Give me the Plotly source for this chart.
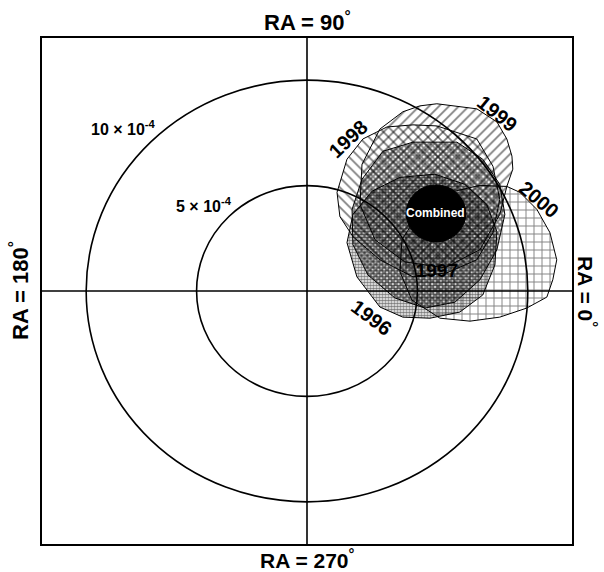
import plotly.graph_objects as go

# amplitude rings (units of 1e-4)
ring_radii = [5, 10]
ring_labels = ["5 × 10<sup>-4</sup>", "10 × 10<sup>-4</sup>"]
ring_label_x = [-4.66, -8.33]
ring_label_y = [4.10, 7.73]

# direction labels
ra_labels = ["RA = 90<sup>°</sup>", "RA = 270<sup>°</sup>", "RA = 180<sup>°</sup>", "RA = 0<sup>°</sup>"]

# yearly confidence contours (x = A cos RA, y = A sin RA, units of 1e-4)
years = ["1996", "1997", "1998", "1999", "2000"]
x1996 = [2.08, 1.81, 2.26, 3.30, 4.34, 5.57, 6.92, 7.96, 8.51, 8.60, 8.14, 7.15, 5.79, 4.21, 2.94]
y1996 = [3.63, 2.29, 0.67, -0.76, -1.24, -1.29, -1.00, -0.19, 1.24, 2.82, 4.11, 5.06, 5.54, 5.39, 4.73]
x1997 = [4.80, 6.79, 7.96, 8.73, 8.96, 8.60, 7.83, 6.70, 5.34, 3.98, 2.76, 2.08, 2.04, 2.49, 3.44]
y1997 = [7.06, 7.06, 6.25, 5.06, 3.63, 1.96, 0.53, -0.53, -0.81, -0.33, 0.76, 2.20, 3.87, 5.30, 6.63]
x1998 = [1.36, 1.81, 2.53, 3.62, 4.80, 5.88, 7.69, 8.42, 8.73, 8.42, 7.69, 6.33, 4.80, 3.30, 2.08, 1.49]
y1998 = [4.68, 6.25, 7.21, 7.78, 7.88, 7.83, 7.21, 5.92, 4.34, 2.77, 1.48, 0.86, 0.67, 1.48, 2.58, 3.53]
x1999 = [5.88, 7.69, 8.60, 9.05, 9.28, 9.32, 9.05, 8.73, 7.83, 6.24, 4.43, 3.08, 2.40, 2.49, 3.30, 4.34, 5.11]
y1999 = [8.88, 8.64, 8.02, 7.21, 6.40, 5.78, 4.96, 3.63, 1.96, 1.10, 1.38, 2.43, 4.10, 6.01, 7.68, 8.50, 8.78]
x2000 = [9.05, 9.64, 10.41, 11.00, 11.31, 11.13, 10.86, 9.95, 8.73, 7.38, 6.02, 4.75, 4.21, 4.30, 5.11, 6.47, 7.83]
y2000 = [4.96, 4.68, 3.87, 2.77, 1.48, 0.53, -0.29, -0.81, -1.24, -1.43, -1.29, -0.43, 0.91, 2.43, 3.77, 4.68, 5.01]

year_label_x = [2.94, 5.88, 1.86, 8.64, 10.54]
year_label_y = [-1.29, 0.91, 7.21, 8.40, 4.34]
year_label_angle = [37, 0, -43, 39, 40]

combined_x, combined_y, combined_r = 5.84, 3.68, 1.35

contours = {
    "1996": (x1996, y1996),
    "1997": (x1997, y1997),
    "1998": (x1998, y1998),
    "1999": (x1999, y1999),
    "2000": (x2000, y2000),
}
patterns = {
    "1996": dict(shape=".", size=3, solidity=0.65),
    "2000": dict(shape="+", size=8, solidity=0.22),
    "1998": dict(shape="\\", size=7, solidity=0.25),
    "1999": dict(shape="/", size=7, solidity=0.25),
    "1997": dict(shape="x", size=4, solidity=0.7),
}
draw_order = ["1996", "2000", "1998", "1999", "1997"]

fig = go.Figure()

# 1997 label sits underneath the overlapping patterns
fig.add_trace(go.Scatter(
    x=[year_label_x[1]], y=[year_label_y[1]], mode="text", text=["1997"],
    textfont=dict(family="Liberation Sans, Arial", size=19, color="black", weight="bold"),
    hoverinfo="skip", showlegend=False))

for yr in draw_order:
    xs, ys = contours[yr]
    p = patterns[yr]
    fig.add_trace(go.Scatter(
        x=xs + [xs[0]], y=ys + [ys[0]], mode="lines", fill="toself",
        fillcolor="rgba(0,0,0,0)",
        fillpattern=dict(shape=p["shape"], size=p["size"], solidity=p["solidity"],
                         fgcolor="black", bgcolor="rgba(0,0,0,0)", fillmode="overlay"),
        line=dict(color="black", width=1), hoverinfo="skip", showlegend=False, name=yr))

shapes = []
for r in ring_radii:
    shapes.append(dict(type="circle", xref="x", yref="y", x0=-r, x1=r, y0=-r, y1=r,
                       line=dict(color="black", width=1.6), layer="above"))
shapes.append(dict(type="line", xref="x", yref="y", x0=-12, x1=12, y0=0, y1=0,
                   line=dict(color="black", width=1.6), layer="above"))
shapes.append(dict(type="line", xref="x", yref="y", x0=0, x1=0, y0=-12, y1=12,
                   line=dict(color="black", width=1.6), layer="above"))
shapes.append(dict(type="circle", xref="x", yref="y",
                   x0=combined_x - combined_r, x1=combined_x + combined_r,
                   y0=combined_y - combined_r, y1=combined_y + combined_r,
                   fillcolor="black", line=dict(color="black", width=1), layer="above"))

bold = dict(family="Liberation Sans, Arial", color="black", weight="bold")
ann = []
for lab, lx, ly in zip(ring_labels, ring_label_x, ring_label_y):
    ann.append(dict(x=lx, y=ly, xref="x", yref="y", text=lab, showarrow=False,
                    font=dict(size=16, **bold)))
for i, yr in enumerate(years):
    if yr == "1997":
        continue
    ann.append(dict(x=year_label_x[i], y=year_label_y[i], xref="x", yref="y", text=yr,
                    textangle=year_label_angle[i], showarrow=False, font=dict(size=20, **bold)))
ann.append(dict(x=combined_x, y=combined_y, xref="x", yref="y", text="Combined",
                showarrow=False, font=dict(size=12, family="Liberation Sans, Arial",
                                           color="white", weight="bold")))
# direction titles
ann.append(dict(x=0.5, y=1, xref="paper", yref="paper", yanchor="bottom", yshift=1,
                text=ra_labels[0], showarrow=False, font=dict(size=22, **bold)))
ann.append(dict(x=0.5, y=0, xref="paper", yref="paper", yanchor="top", yshift=0,
                text=ra_labels[1], showarrow=False, font=dict(size=21, **bold)))
ann.append(dict(x=0, y=0.5, xref="paper", yref="paper", xanchor="right", xshift=-7,
                text=ra_labels[2], textangle=-90, showarrow=False, font=dict(size=22, **bold)))
ann.append(dict(x=1, y=0.5, xref="paper", yref="paper", xanchor="left", xshift=0,
                text=ra_labels[3], textangle=90, showarrow=False, font=dict(size=21, **bold)))

axis = dict(range=[-12, 12], showgrid=False, zeroline=False, showticklabels=False,
            ticks="", showline=True, linecolor="black", linewidth=1.6, mirror=True)
fig.update_layout(
    width=604, height=572, margin=dict(l=42, r=32, t=38, b=28),
    plot_bgcolor="white", paper_bgcolor="white",
    xaxis=axis, yaxis=axis, shapes=shapes, annotations=ann, showlegend=False)

fig.write_html("out.html", config={"displayModeBar": False},
               post_script="document.body.style.margin='0';")
